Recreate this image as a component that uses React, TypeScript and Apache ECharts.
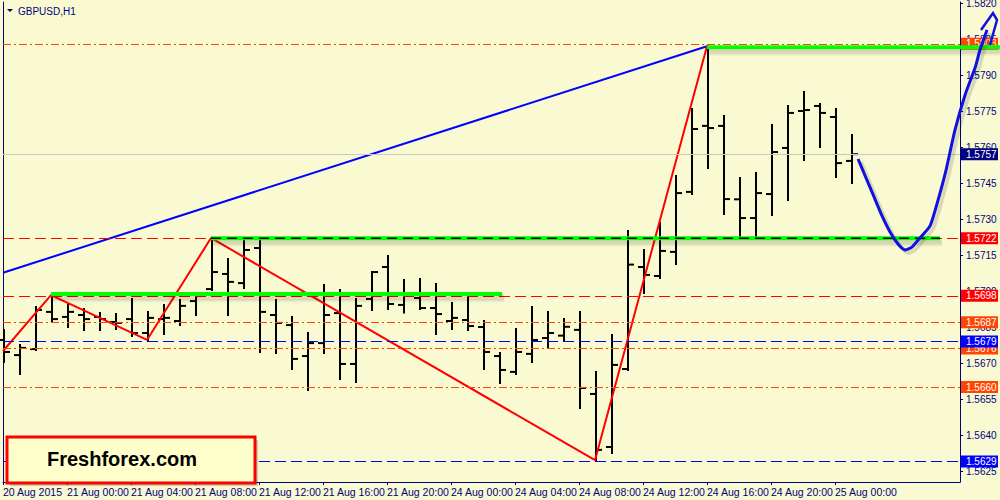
import React, { useEffect, useRef } from "react";
import * as echarts from "echarts";

// ---------- data ----------
const TIME_LABEL_INDEX = [0, 4, 8, 12, 16, 20, 24, 28, 32, 36, 40, 44, 48, 52];
const TIME_LABELS = [
  "20 Aug 2015", "21 Aug 00:00", "21 Aug 04:00", "21 Aug 08:00", "21 Aug 12:00",
  "21 Aug 16:00", "21 Aug 20:00", "24 Aug 00:00", "24 Aug 04:00", "24 Aug 08:00",
  "24 Aug 12:00", "24 Aug 16:00", "24 Aug 20:00", "25 Aug 00:00",
];
const PRICE_TICKS = [
  1.5625, 1.564, 1.5655, 1.567, 1.5685, 1.57, 1.5715, 1.573, 1.5745, 1.576,
  1.5775, 1.579, 1.5805, 1.582,
];

// hourly OHLC bars (bar index 0 = 20 Aug 20:00)
const BAR_OPEN = [
  1.56796, 1.56733, 1.56758, 1.56913, 1.56892, 1.569, 1.56892, 1.56871, 1.56883, 1.56825,
  1.56883, 1.56875, 1.56958, 1.57008, 1.57071, 1.57033, 1.57179, 1.569, 1.56858, 1.56729,
  1.56783, 1.56908, 1.56696, 1.56967, 1.571, 1.56942, 1.56971, 1.56929, 1.56875, 1.56879,
  1.5685, 1.56729, 1.56663, 1.56738, 1.56804, 1.56814, 1.56838, 1.56571, 1.5635, 1.56675,
  1.571, 1.570625, 1.57163, 1.57413, 1.57688, 1.57688, 1.57382, 1.57304, 1.57404, 1.57596,
  1.5775, 1.57771, 1.57725, 1.57542,
];
const BAR_HIGH = [
  1.56838, 1.56775, 1.56933, 1.56983, 1.56942, 1.56925, 1.56908, 1.56904, 1.56967, 1.56913,
  1.56942, 1.56963, 1.56979, 1.57221, 1.57133, 1.57217, 1.57217, 1.56963, 1.56892, 1.56825,
  1.57025, 1.57004, 1.56967, 1.57079, 1.57146, 1.57046, 1.5705, 1.57029, 1.5695, 1.56983,
  1.56875, 1.56742, 1.56842, 1.56933, 1.56913, 1.56883, 1.56913, 1.56663, 1.56817, 1.5725,
  1.57171, 1.57283, 1.57479, 1.57758, 1.5802, 1.57729, 1.57471, 1.57492, 1.57692, 1.57771,
  1.57829, 1.57779, 1.57758, 1.5765,
];
const BAR_LOW = [
  1.56704, 1.56654, 1.56754, 1.56871, 1.5685, 1.56838, 1.56838, 1.56842, 1.56813, 1.56796,
  1.56821, 1.56858, 1.569, 1.57004, 1.569, 1.57013, 1.56746, 1.56742, 1.56675, 1.56588,
  1.56742, 1.56633, 1.56621, 1.56921, 1.56925, 1.5691, 1.56925, 1.56821, 1.56842, 1.56838,
  1.56675, 1.56617, 1.56654, 1.56704, 1.56763, 1.56792, 1.56513, 1.56295, 1.56325, 1.56671,
  1.56992, 1.570542, 1.57113, 1.57404, 1.57513, 1.57321, 1.57221, 1.57221, 1.57317, 1.57379,
  1.57546, 1.576, 1.57475, 1.5745,
];
const BAR_CLOSE = [
  1.56746, 1.56763, 1.56921, 1.56883, 1.56913, 1.56883, 1.56883, 1.56867, 1.56825, 1.56888,
  1.56888, 1.56938, 1.56979, 1.57079, 1.57038, 1.57171, 1.56913, 1.56867, 1.56717, 1.56783,
  1.569, 1.56696, 1.56938, 1.57079, 1.56946, 1.56983, 1.56929, 1.56904, 1.56888, 1.56854,
  1.56746, 1.56671, 1.56746, 1.56796, 1.56825, 1.56851, 1.56596, 1.56338, 1.56692, 1.5711,
  1.57067, 1.57167, 1.57408, 1.57675, 1.57679, 1.57383, 1.57304, 1.57408, 1.57579, 1.57742,
  1.57754, 1.57742, 1.57533, 1.5757,
];

// zigzag (red)
const ZIGZAG_INDEX = [0, 3, 9, 13, 37, 44];
const ZIGZAG_PRICE = [1.5675, 1.56983, 1.56796, 1.57221, 1.56295, 1.5802];

// trend line (blue)
const TREND_INDEX = [0, 44];
const TREND_PRICE = [1.57076, 1.5802];

// horizontal levels with price tags
const LEVEL_PRICES = [1.5803, 1.5757, 1.5722, 1.5698, 1.5687, 1.5676, 1.5679, 1.566, 1.5629];

// green support/resistance lines
const GREEN_START = [3, 13, 44];
const GREEN_END = [31.2, 58.56, 62.4];
const GREEN_PRICE = [1.56988, 1.5722, 1.58016];

// hand-drawn forecast (blue curve with arrow head)
const FORECAST_INDEX = [53.44, 53.94, 54.44, 54.94, 55.44, 55.94, 56.38, 56.81, 57.31, 57.94, 58.44, 58.94, 59.5, 60.13, 60.75, 61.06, 61.5];
const FORECAST_PRICE = [1.5755, 1.57471, 1.57392, 1.57313, 1.57246, 1.57196, 1.57171, 1.57183, 1.57221, 1.57271, 1.57379, 1.57504, 1.57671, 1.57817, 1.57929, 1.58004, 1.58088];
const ARROW_INDEX = [61.125, 61.875, 62.125, 61.6875];
const ARROW_PRICE = [1.580875, 1.581583, 1.581292, 1.58025];

// ---------- styles ----------
const NAVY = "#000080";
const BG = "#FAFAD2";
const FONT = "Liberation Sans";
const LEVEL_STYLE = [
  { color: "#FF4500", type: [8, 3, 2, 3], tag: "#FF4500" },
  { color: "#C8C8C8", type: "solid", tag: "#000080" },
  { color: "#FF0000", type: [11, 5], tag: "#FF0000" },
  { color: "#FF0000", type: [11, 5], tag: "#FF0000" },
  { color: "#FF4500", type: [8, 3, 2, 3], tag: "#FF4500" },
  { color: "#FF4500", type: [8, 3, 2, 3], tag: "#FF4500" },
  { color: "#0000FF", type: [11, 5], tag: "#0000FF" },
  { color: "#FF4500", type: [8, 3, 2, 3], tag: "#FF4500" },
  { color: "#0000FF", type: [11, 5], tag: "#0000FF" },
];
const FORECAST_COLOR = "#1010E0";

const Y_MAX = 1.5820 + 1 / 24000;
const Y_MIN = Y_MAX - 480 / 24000;
const X_MAX = (960 - 3) / 16;

export default function App() {
  const ref = useRef<HTMLDivElement>(null);
  useEffect(() => {
    document.body.style.margin = "0";
    const chart = echarts.init(ref.current!, null, { renderer: "svg" });
    const bars = BAR_OPEN.map((o, i) => [i, o, BAR_HIGH[i], BAR_LOW[i], BAR_CLOSE[i]]);

    const option: any = {
      animation: false,
      backgroundColor: BG,
      grid: { left: 3, right: 40, top: 2, bottom: 18, containLabel: false, outerBoundsMode: "none" },
      xAxis: {
        type: "value",
        min: 0,
        max: X_MAX,
        splitLine: { show: false },
        axisLine: { show: true, onZero: false, lineStyle: { color: NAVY, width: 1 } },
        axisTick: { show: true, customValues: TIME_LABEL_INDEX, length: 3, lineStyle: { color: NAVY } },
        axisLabel: {
          customValues: TIME_LABEL_INDEX,
          formatter: (v: number) => TIME_LABELS[TIME_LABEL_INDEX.indexOf(Math.round(v))] ?? "",
          align: "left",
          color: NAVY,
          fontFamily: FONT,
          fontSize: 10.5,
          margin: 4,
        },
      },
      yAxis: [
        {
          type: "value",
          position: "right",
          min: Y_MIN,
          max: Y_MAX,
          splitLine: { show: false },
          axisLine: { show: true, onZero: false, lineStyle: { color: NAVY, width: 1 } },
          axisTick: { show: true, customValues: PRICE_TICKS, length: 3, lineStyle: { color: NAVY } },
          axisLabel: {
            customValues: PRICE_TICKS,
            formatter: (v: number) => v.toFixed(4),
            color: NAVY,
            fontFamily: FONT,
            fontSize: 10,
            margin: 6,
          },
        },
        {
          type: "value",
          position: "left",
          min: Y_MIN,
          max: Y_MAX,
          splitLine: { show: false },
          axisLine: { show: true, onZero: false, lineStyle: { color: NAVY, width: 1 } },
          axisTick: { show: false },
          axisLabel: { show: false },
        },
      ],
      series: [
        // level lines
        {
          type: "line",
          data: [],
          silent: true,
          z: 1,
          markLine: {
            silent: true,
            precision: 5,
            symbol: ["none", "none"],
            label: { show: false },
            animation: false,
            data: LEVEL_PRICES.map((p, i) => ({
              yAxis: p,
              lineStyle: { color: LEVEL_STYLE[i].color, type: LEVEL_STYLE[i].type, width: 1 },
            })),
          },
        },
        // OHLC bars
        {
          type: "custom",
          z: 3,
          silent: true,
          data: bars,
          encode: { x: 0, y: [1, 2, 3, 4] },
          renderItem: (params: any, api: any) => {
            const i = api.value(0);
            const o = api.coord([i, api.value(1)]);
            const h = api.coord([i, api.value(2)]);
            const l = api.coord([i, api.value(3)]);
            const c = api.coord([i, api.value(4)]);
            const x = Math.round(o[0]) + 1;
            const style = { stroke: "#000", lineWidth: 2 };
            return {
              type: "group",
              children: [
                { type: "line", shape: { x1: x, y1: h[1] - 1, x2: x, y2: l[1] + 1 }, style },
                { type: "line", shape: { x1: x - 6, y1: o[1], x2: x, y2: o[1] }, style },
                { type: "line", shape: { x1: x, y1: c[1], x2: x + 6, y2: c[1] }, style },
              ],
            };
          },
        },
        // blue trend line
        {
          type: "line",
          z: 4,
          silent: true,
          symbol: "none",
          data: TREND_INDEX.map((x, i) => [x, TREND_PRICE[i]]),
          lineStyle: { color: "#0000FF", width: 2 },
        },
        // red zigzag
        {
          type: "line",
          z: 4,
          silent: true,
          symbol: "none",
          data: ZIGZAG_INDEX.map((x, i) => [x, ZIGZAG_PRICE[i]]),
          lineStyle: { color: "#FF0000", width: 2 },
        },
        // price tags
        {
          type: "custom",
          z: 5,
          silent: true,
          clip: false,
          data: LEVEL_PRICES.map((p, i) => [0, p, i]),
          encode: { x: 0, y: 1 },
          renderItem: (params: any, api: any) => {
            const p = api.value(1);
            const idx = api.value(2);
            const y = api.coord([0, p])[1];
            const cs = params.coordSys;
            const x0 = cs.x + cs.width + 1;
            return {
              type: "group",
              children: [
                { type: "rect", shape: { x: x0, y: y - 6, width: 37, height: 12 }, style: { fill: LEVEL_STYLE[idx].tag } },
                {
                  type: "text",
                  style: {
                    text: p.toFixed(4),
                    x: x0 + 5,
                    y: y,
                    verticalAlign: "middle",
                    align: "left",
                    fill: "#FFFFFF",
                    font: `10px ${FONT}`,
                  },
                },
              ],
            };
          },
        },
        // green lines with soft shadow
        {
          type: "custom",
          z: 6,
          silent: true,
          clip: false,
          data: GREEN_PRICE.map((p, k) => [GREEN_START[k], p, GREEN_END[k]]),
          encode: { x: 0, y: 1 },
          renderItem: (params: any, api: any) => {
            const a = api.coord([api.value(0), api.value(1)]);
            const b = api.coord([api.value(2), api.value(1)]);
            const children: any[] = [];
            for (let s = 0; s < 5; s++) {
              children.push({
                type: "line",
                shape: { x1: a[0] + 2, y1: a[1] + 2 + s * 1.2, x2: b[0] + 2, y2: b[1] + 2 + s * 1.2 },
                style: { stroke: "rgba(0,0,0,0.055)", lineWidth: 3 },
              });
            }
            children.push({ type: "line", shape: { x1: a[0], y1: a[1], x2: b[0], y2: b[1] }, style: { stroke: "#00FF00", lineWidth: 4 } });
            return { type: "group", children };
          },
        },
        // black dashes on the middle green line
        {
          type: "line",
          z: 7,
          silent: true,
          symbol: "none",
          data: [[GREEN_START[1], GREEN_PRICE[1]], [GREEN_END[1], GREEN_PRICE[1]]],
          lineStyle: { color: "#000000", width: 1.5, type: [10, 6] },
        },
        // forecast curve + arrow
        {
          type: "custom",
          z: 8,
          silent: true,
          clip: false,
          data: [[FORECAST_INDEX[0], FORECAST_PRICE[0]]],
          encode: { x: 0, y: 1 },
          renderItem: (params: any, api: any) => {
            const pts = FORECAST_INDEX.map((x, i) => api.coord([x, FORECAST_PRICE[i]]));
            const head = ARROW_INDEX.map((x, i) => api.coord([x, ARROW_PRICE[i]]));
            const shadowPts = pts.map((p: number[]) => [p[0] + 3, p[1] + 3]);
            return {
              type: "group",
              children: [
                { type: "polyline", shape: { points: shadowPts, smooth: 0.2 }, style: { stroke: "rgba(0,0,0,0.13)", lineWidth: 4, fill: "none" } },
                { type: "polyline", shape: { points: pts, smooth: 0.2 }, style: { stroke: FORECAST_COLOR, lineWidth: 3, fill: "none" } },
                { type: "polyline", shape: { points: head }, style: { stroke: FORECAST_COLOR, lineWidth: 2.5, fill: "none" } },
              ],
            };
          },
        },
      ],
      graphic: [
        { type: "polygon", shape: { points: [[7, 9], [13, 9], [10, 12]] }, style: { fill: NAVY }, z: 10 },
        {
          type: "text",
          x: 18,
          y: 11,
          style: { text: "GBPUSD,H1", fill: NAVY, font: `10px ${FONT}`, verticalAlign: "middle" },
          z: 10,
        },
        {
          type: "rect",
          shape: { x: 10, y: 440, width: 248, height: 46 },
          style: { fill: "rgba(0,0,0,0.18)" },
          z: 19,
        },
        {
          type: "rect",
          shape: { x: 7, y: 437, width: 248, height: 46 },
          style: { fill: "#FFFFCC", stroke: "#FF0000", lineWidth: 3 },
          z: 20,
        },
        {
          type: "text",
          x: 122,
          y: 459,
          style: { text: "Freshforex.com", fill: "#000", font: `bold 20px ${FONT}`, align: "center", verticalAlign: "middle" },
          z: 21,
        },
      ],
    };
    chart.setOption(option);
    return () => chart.dispose();
  }, []);
  return <div ref={ref} style={{ width: 1000, height: 500 }} />;
}
